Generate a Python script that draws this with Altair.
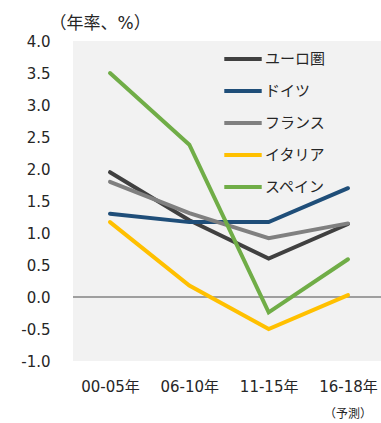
import altair as alt
import pandas as pd

# Annual real growth rates (%) by period
periods = ["00-05年", "06-10年", "11-15年", "16-18年"]
series = ["ユーロ圏", "ドイツ", "フランス", "イタリア", "スペイン"]
colors = ["#404040", "#1F4E79", "#808080", "#FFC000", "#70AD47"]

euro = [1.95, 1.2, 0.6, 1.14]
germany = [1.3, 1.17, 1.17, 1.7]
france = [1.8, 1.31, 0.92, 1.15]
italy = [1.17, 0.18, -0.5, 0.03]
spain = [3.5, 2.38, -0.24, 0.59]

y_ticks = [4.0, 3.5, 3.0, 2.5, 2.0, 1.5, 1.0, 0.5, 0.0, -0.5, -1.0]
forecast_period = "16-18年"
forecast_note = "（予測）"
unit_label = "（年率、%）"

FONT = "DejaVu Sans, Noto Sans CJK JP"
TEXT = "#262626"

rows = []
for name, vals in zip(series, [euro, germany, france, italy, spain]):
    for p, v in zip(periods, vals):
        rows.append({"period": p, "series": name, "value": v})
df = pd.DataFrame(rows)

x_scale = alt.Scale(type="point", domain=periods, range=[37, 275], padding=0)
x_axis = alt.Axis(title=None, labelAngle=0, labelPadding=18,
                  labelFontSize=15, labelColor=TEXT, labelFont=FONT,
                  domain=False, ticks=False)
y_scale = alt.Scale(domain=[-1, 4], nice=False, zero=False)
y_axis = alt.Axis(values=y_ticks, grid=False, domain=False,
                  labelExpr="datum.value < 0 ? '-' + format(-datum.value, '.1f') : format(datum.value, '.1f')",
                  labelOverlap=False,
                  ticks=False, labelPadding=23, labelFontSize=15,
                  labelColor=TEXT, labelFont=FONT,
                  title=unit_label, titleAngle=0, titleAlign="left",
                  titleBaseline="alphabetic", titleX=-24, titleY=-13,
                  titleFontSize=17, titleFontWeight="normal",
                  titleColor=TEXT, titleFont=FONT)

lines = alt.Chart(df).mark_line(strokeWidth=4, strokeCap="round", strokeJoin="miter").encode(
    x=alt.X("period:N", scale=x_scale, sort=periods, axis=x_axis),
    y=alt.Y("value:Q", scale=y_scale, axis=y_axis),
    color=alt.Color("series:N", sort=series,
                    scale=alt.Scale(domain=series, range=colors),
                    legend=alt.Legend(title=None, orient="none", legendX=149, legendY=-3,
                                      symbolType="stroke", symbolSize=1400,
                                      symbolStrokeWidth=4, labelFontSize=15,
                                      labelFont=FONT, labelColor=TEXT,
                                      labelOffset=1, rowPadding=3, padding=0)),
    order=alt.Order("series_order:Q"),
).transform_calculate(
    series_order="indexof(" + str(series) + ", datum.series)"
)

zero_df = pd.DataFrame({"value": [0.0]})
zero_rule = alt.Chart(zero_df).mark_rule(color="#4D4D4D", strokeWidth=1).encode(
    y=alt.Y("value:Q", scale=y_scale, axis=y_axis)
)

note_df = pd.DataFrame({"period": [forecast_period], "note": [forecast_note]})
note = alt.Chart(note_df).mark_text(fontSize=12, font=FONT, color=TEXT,
                                    baseline="middle").encode(
    x=alt.X("period:N", scale=x_scale, sort=periods, axis=x_axis),
    y=alt.value(373),
    text="note:N",
)

chart = alt.layer(zero_rule, lines, note).properties(
    width=308, height=320,
    autosize=alt.AutoSizeParams(type="none"),
    padding={"left": 73, "top": 41, "right": 0, "bottom": 62},
    background="white",
).configure_view(fill="#F2F2F2", stroke=None)

chart.save("out.html", embed_options={"renderer": "svg", "actions": False})
